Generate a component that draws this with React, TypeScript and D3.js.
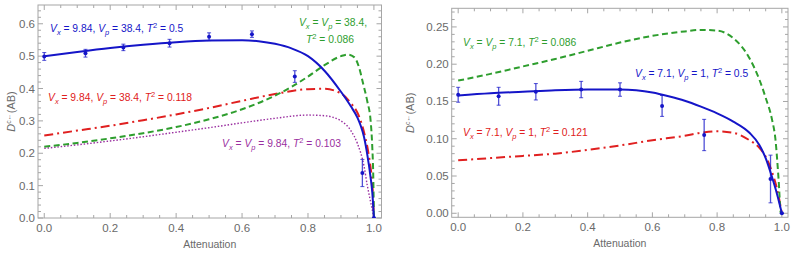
import React from 'react';
import * as d3 from 'd3';

// measured points (same attenuation values for both panels)
const attenuation = [0, 0.125, 0.24, 0.38, 0.5, 0.63, 0.76, 0.965, 1.0];
const leftMeasured = [0.499, 0.509, 0.527, 0.54, 0.56, 0.568, 0.437, 0.139, 0];
const leftError = [0.012, 0.012, 0.01, 0.012, 0.012, 0.01, 0.018, 0.042, 0];
const rightMeasured = [0.159, 0.157, 0.163, 0.166, 0.166, 0.144, 0.105, 0.046, 0];
const rightError = [0.01, 0.012, 0.011, 0.011, 0.009, 0.014, 0.021, 0.032, 0];

// left panel model curves
const leftBlueX = [0, 0.1, 0.2, 0.3, 0.4, 0.5, 0.6, 0.65, 0.7, 0.75, 0.8, 0.85, 0.9, 0.93, 0.95, 0.96, 0.97, 0.98, 0.99, 0.995, 1];
const leftBlueY = [0.5, 0.513, 0.525, 0.535, 0.543, 0.548, 0.549, 0.546, 0.538, 0.524, 0.5, 0.455, 0.39, 0.345, 0.31, 0.285, 0.25, 0.195, 0.125, 0.08, 0];
const leftGreenX = [0, 0.1, 0.2, 0.3, 0.4, 0.5, 0.6, 0.7, 0.75, 0.8, 0.85, 0.9, 0.92, 0.94, 0.955, 0.967, 0.98, 0.99, 0.995, 0.998, 1];
const leftGreenY = [0.22, 0.232, 0.246, 0.262, 0.281, 0.305, 0.336, 0.378, 0.405, 0.437, 0.472, 0.5, 0.505, 0.497, 0.465, 0.416, 0.36, 0.3, 0.22, 0.13, 0];
const leftRedX = [0, 0.1, 0.2, 0.3, 0.4, 0.5, 0.6, 0.7, 0.8, 0.85, 0.9, 0.93, 0.95, 0.96, 0.97, 0.98, 0.99, 0.995, 1];
const leftRedY = [0.255, 0.27, 0.285, 0.302, 0.32, 0.34, 0.362, 0.383, 0.398, 0.399, 0.385, 0.355, 0.325, 0.3, 0.265, 0.22, 0.155, 0.11, 0];
const leftPurpleX = [0, 0.1, 0.2, 0.3, 0.4, 0.5, 0.6, 0.7, 0.8, 0.85, 0.9, 0.93, 0.95, 0.97, 0.98, 0.99, 1];
const leftPurpleY = [0.215, 0.226, 0.238, 0.251, 0.265, 0.279, 0.294, 0.308, 0.318, 0.316, 0.3, 0.27, 0.23, 0.16, 0.1, 0.05, 0];

// right panel model curves
const rightBlueX = [0, 0.1, 0.2, 0.3, 0.4, 0.5, 0.55, 0.6, 0.65, 0.7, 0.75, 0.8, 0.85, 0.9, 0.93, 0.95, 0.97, 0.985, 1];
const rightBlueY = [0.158, 0.161, 0.163, 0.165, 0.166, 0.166, 0.165, 0.162, 0.157, 0.151, 0.143, 0.134, 0.123, 0.108, 0.092, 0.074, 0.048, 0.026, 0];
const rightGreenX = [0, 0.1, 0.2, 0.3, 0.4, 0.5, 0.6, 0.7, 0.75, 0.8, 0.85, 0.9, 0.93, 0.95, 0.97, 0.98, 0.99, 0.997, 1];
const rightGreenY = [0.178, 0.187, 0.197, 0.207, 0.218, 0.229, 0.238, 0.244, 0.246, 0.245, 0.235, 0.208, 0.18, 0.155, 0.125, 0.1, 0.045, 0, 0];
const rightRedX = [0, 0.1, 0.2, 0.3, 0.4, 0.5, 0.6, 0.7, 0.75, 0.8, 0.85, 0.9, 0.93, 0.95, 0.97, 0.985, 1];
const rightRedY = [0.071, 0.074, 0.077, 0.08, 0.085, 0.091, 0.098, 0.104, 0.108, 0.11, 0.108, 0.098, 0.088, 0.076, 0.055, 0.033, 0];

const xTicks = [0, 0.2, 0.4, 0.6, 0.8, 1.0];
const leftYTicks = [0, 0.1, 0.2, 0.3, 0.4, 0.5, 0.6];
const rightYTicks = [0, 0.05, 0.1, 0.15, 0.2, 0.25];

const BLUE = '#1515c8';
const GREEN = '#2e9e2e';
const RED = '#e02020';
const PURPLE = '#9a2fa0';
const AXIS = '#a6a6a6';
const TEXT = '#6a6a6a';
const FONT = '"Liberation Sans", Arial, sans-serif';

const zip = (xs: number[], ys: number[]) => xs.map((x, i) => [x, ys[i]] as [number, number]);

// label parts: [text, style]
type Part = [string, string];
const Label = ({ x, y, color, parts, anchor = 'start' }: { x: number; y: number; color: string; parts: Part[]; anchor?: string }) => (
  <text x={x} y={y} fill={color} fontFamily={FONT} fontSize={10.3} textAnchor={anchor as any}>
    {parts.map(([t, s], i) => {
      if (s === 'i') return <tspan key={i} fontStyle="italic">{t}</tspan>;
      if (s === 'sub') return <tspan key={i} fontStyle="italic" fontSize={7.5} dy={3}>{t}</tspan>;
      if (s === 'sup') return <tspan key={i} fontSize={7.5} dy={-4}>{t}</tspan>;
      if (s === 'n+') return <tspan key={i} dy={-3}>{t}</tspan>;
      if (s === 'n-') return <tspan key={i} dy={4}>{t}</tspan>;
      return <tspan key={i}>{t}</tspan>;
    })}
  </text>
);

const Panel = ({ xs, ys, yTicks, yMinor, yFmt, labelX, curves, pts, errs }: any) => {
  const [x0, x1] = xs.range();
  const [yb, yt] = ys.range();
  const xMinor = d3.range(0, 1.0001, 0.05);
  const line = d3.line<[number, number]>().x(d => xs(d[0])).y(d => ys(d[1])).curve(d3.curveMonotoneX);
  const ticks: JSX.Element[] = [];
  xMinor.forEach((t, i) => {
    const major = xTicks.some(m => Math.abs(m - t) < 1e-6);
    const len = major ? 5 : 3;
    ticks.push(<line key={'xb' + i} x1={xs(t)} x2={xs(t)} y1={yb} y2={yb - len} stroke={AXIS} />);
    ticks.push(<line key={'xt' + i} x1={xs(t)} x2={xs(t)} y1={yt} y2={yt + len} stroke={AXIS} />);
  });
  yMinor.forEach((t: number, i: number) => {
    const major = yTicks.some((m: number) => Math.abs(m - t) < 1e-6);
    const len = major ? 5 : 3;
    ticks.push(<line key={'yl' + i} x1={x0} x2={x0 + len} y1={ys(t)} y2={ys(t)} stroke={AXIS} />);
    ticks.push(<line key={'yr' + i} x1={x1} x2={x1 - len} y1={ys(t)} y2={ys(t)} stroke={AXIS} />);
  });
  const midY = (yb + yt) / 2;
  return (
    <g>
      <rect x={x0} y={yt} width={x1 - x0} height={yb - yt} fill="white" stroke={AXIS} strokeWidth={1} />
      {ticks}
      {xTicks.map(t => (
        <text key={'xl' + t} x={xs(t)} y={yb + 14} textAnchor="middle" fontFamily={FONT} fontSize={11.5} fill={TEXT}>{d3.format('.1f')(t)}</text>
      ))}
      {yTicks.map((t: number) => (
        <text key={'yl' + t} x={x0 - 3} y={ys(t) + 4} textAnchor="end" fontFamily={FONT} fontSize={11.5} fill={TEXT}>{d3.format(yFmt)(t)}</text>
      ))}
      <text x={(x0 + x1) / 2} y={yb + 30} textAnchor="middle" fontFamily={FONT} fontSize={10.5} fill={TEXT}>Attenuation</text>
      <text transform={`translate(${labelX},${midY}) rotate(-90)`} textAnchor="middle" fontFamily={FONT} fontSize={11} fill={TEXT}>
        <tspan fontStyle="italic">D</tspan><tspan fontSize={7} dy={-4}>c←</tspan><tspan dy={4}>(AB)</tspan>
      </text>
      <clipPath id={'clip' + x0}>
        <rect x={x0} y={yt} width={x1 - x0} height={yb - yt} />
      </clipPath>
      <g clipPath={`url(#clip${x0})`}>
        {curves.map((c: any, i: number) => (
          <path key={i} d={line(c.data) || ''} fill="none" stroke={c.color} strokeWidth={c.width} strokeDasharray={c.dash} />
        ))}
        {attenuation.map((a, i) => (
          <g key={'p' + i} stroke={BLUE} strokeOpacity={0.75}>
            <line x1={xs(a)} x2={xs(a)} y1={ys(pts[i] - errs[i])} y2={ys(pts[i] + errs[i])} strokeWidth={1.3} />
            <line x1={xs(a) - 2} x2={xs(a) + 2} y1={ys(pts[i] - errs[i])} y2={ys(pts[i] - errs[i])} />
            <line x1={xs(a) - 2} x2={xs(a) + 2} y1={ys(pts[i] + errs[i])} y2={ys(pts[i] + errs[i])} />
            <circle cx={xs(a)} cy={ys(pts[i])} r={2} fill={BLUE} stroke="none" />
          </g>
        ))}
      </g>
    </g>
  );
};

export default function App() {
  const lx = d3.scaleLinear().domain([-0.019, 1.023]).range([38, 381.5]);
  const ly = d3.scaleLinear().domain([0, 0.658]).range([218, 5]);
  const rx = d3.scaleLinear().domain([-0.02, 1.019]).range([451.7, 788]);
  const ry = d3.scaleLinear().domain([-0.0054, 0.275]).range([217.3, 8.3]);

  const leftCurves = [
    { data: zip(leftPurpleX, leftPurpleY), color: PURPLE, width: 1.4, dash: '1.5,1.8' },
    { data: zip(leftRedX, leftRedY), color: RED, width: 2, dash: '9,4,2,4' },
    { data: zip(leftGreenX, leftGreenY), color: GREEN, width: 2, dash: '6,3.5' },
    { data: zip(leftBlueX, leftBlueY), color: BLUE, width: 2, dash: undefined },
  ];
  const rightCurves = [
    { data: zip(rightRedX, rightRedY), color: RED, width: 2, dash: '9,4,2,4' },
    { data: zip(rightGreenX, rightGreenY), color: GREEN, width: 2, dash: '6,3.5' },
    { data: zip(rightBlueX, rightBlueY), color: BLUE, width: 2, dash: undefined },
  ];

  return (
    <svg width={793} height={258} style={{ position: 'absolute', left: 0, top: 0 }}>
      <rect width={793} height={258} fill="white" />
      <Panel xs={lx} ys={ly} yTicks={leftYTicks} yMinor={d3.range(0, 0.6501, 0.02)} yFmt=".1f" labelX={15}
        curves={leftCurves} pts={leftMeasured} errs={leftError} />
      <Panel xs={rx} ys={ry} yTicks={rightYTicks} yMinor={d3.range(0, 0.2701, 0.01)} yFmt=".2f" labelX={414}
        curves={rightCurves} pts={rightMeasured} errs={rightError} />

      <Label x={50} y={32} color={BLUE} parts={[['V', 'i'], ['x', 'sub'], [' = 9.84, ', 'n+'], ['V', 'i'], ['p', 'sub'], [' = 38.4, ', 'n+'], ['T', 'i'], ['2', 'sup'], [' = 0.5', 'n-']]} />
      <Label x={367} y={26} anchor="end" color={GREEN} parts={[['V', 'i'], ['x', 'sub'], [' = ', 'n+'], ['V', 'i'], ['p', 'sub'], [' = 38.4,', 'n+']]} />
      <Label x={330} y={43} anchor="middle" color={GREEN} parts={[['T', 'i'], ['2', 'sup'], [' = 0.086', 'n-']]} />
      <Label x={48} y={101} color={RED} parts={[['V', 'i'], ['x', 'sub'], [' = 9.84, ', 'n+'], ['V', 'i'], ['p', 'sub'], [' = 38.4, ', 'n+'], ['T', 'i'], ['2', 'sup'], [' = 0.118', 'n-']]} />
      <Label x={222} y={147} color={PURPLE} parts={[['V', 'i'], ['x', 'sub'], [' = ', 'n+'], ['V', 'i'], ['p', 'sub'], [' = 9.84, ', 'n+'], ['T', 'i'], ['2', 'sup'], [' = 0.103', 'n-']]} />

      <Label x={463} y={46} color={GREEN} parts={[['V', 'i'], ['x', 'sub'], [' = ', 'n+'], ['V', 'i'], ['p', 'sub'], [' = 7.1, ', 'n+'], ['T', 'i'], ['2', 'sup'], [' = 0.086', 'n-']]} />
      <Label x={635} y={77} color={BLUE} parts={[['V', 'i'], ['x', 'sub'], [' = 7.1, ', 'n+'], ['V', 'i'], ['p', 'sub'], [' = 1, ', 'n+'], ['T', 'i'], ['2', 'sup'], [' = 0.5', 'n-']]} />
      <Label x={463} y={136} color={RED} parts={[['V', 'i'], ['x', 'sub'], [' = 7.1, ', 'n+'], ['V', 'i'], ['p', 'sub'], [' = 1, ', 'n+'], ['T', 'i'], ['2', 'sup'], [' = 0.121', 'n-']]} />
    </svg>
  );
}
